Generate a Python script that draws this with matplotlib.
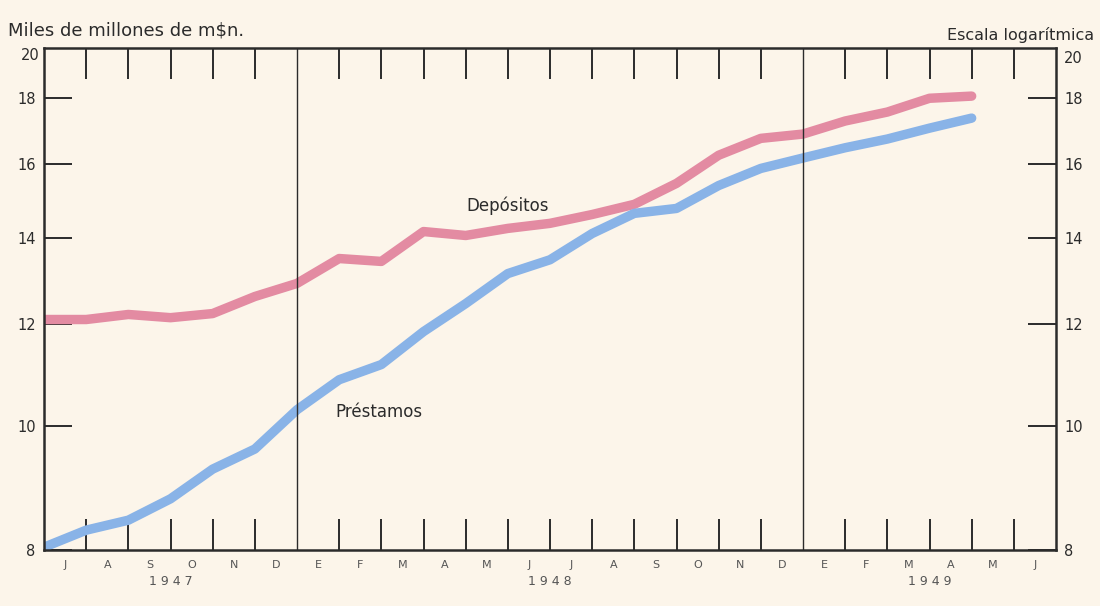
import matplotlib
matplotlib.use("Agg")
import matplotlib.pyplot as plt
import numpy as np

# ---- data (thousands of millions m$n, month-ends from July 1947)
months = ["J", "A", "S", "O", "N", "D", "E", "F", "M", "A", "M", "J",
          "J", "A", "S", "O", "N", "D", "E", "F", "M", "A", "M", "J"]
years = ["1 9 4 7", "1 9 4 8", "1 9 4 9"]
year_centers = [3, 12, 21]
year_bounds = [6, 18]

depositos = [12.10, 12.10, 12.21, 12.14, 12.23, 12.61, 12.91, 13.50, 13.43, 14.17,
             14.07, 14.25, 14.38, 14.61, 14.88, 15.45, 16.25, 16.75, 16.88, 17.28,
             17.56, 18.00, 18.07]
prestamos = [8.04, 8.29, 8.44, 8.77, 9.25, 9.59, 10.29, 10.86, 11.16, 11.84,
             12.45, 13.14, 13.47, 14.12, 14.64, 14.77, 15.39, 15.87, 16.17, 16.47,
             16.73, 17.06, 17.37]
y_ticks = [8, 10, 12, 14, 16, 18]
y_top_label = "20"

bg = "#FCF5EA"
ink = "#2b2b2b"
pink = "#E38BA2"
blue = "#89B3E7"

fig = plt.figure(figsize=(11, 6.06), dpi=100, facecolor=bg)
ax = fig.add_axes([0.04, 0.0924, 0.92, 0.8284])
ax.set_facecolor(bg)

x = np.arange(len(depositos))
ax.plot(x, depositos, color=pink, lw=6.8, solid_capstyle="round", solid_joinstyle="round")
ax.plot(x, prestamos, color=blue, lw=6.8, solid_capstyle="round", solid_joinstyle="round")

ax.set_yscale("log")
ax.set_ylim(8.0, 19.7)
ax.set_xlim(0, 24)

ax.yaxis.set_major_locator(matplotlib.ticker.FixedLocator(y_ticks))
ax.yaxis.set_major_formatter(matplotlib.ticker.FixedFormatter([str(t) for t in y_ticks]))
ax.yaxis.set_minor_locator(matplotlib.ticker.NullLocator())
ax.tick_params(axis="y", which="major", direction="in", length=20, width=1.4,
               left=True, right=True, labelleft=True, labelright=True,
               labelsize=10.5, colors=ink, pad=6)

# month labels centred between month boundaries; ticks at boundaries
ax.set_xticks(np.arange(24) + 0.5)
ax.set_xticklabels(months, fontsize=8, color="#555555")
ax.tick_params(axis="x", which="major", length=0, pad=7)
bounds = [b for b in range(1, 24) if b not in year_bounds]
ax.set_xticks(bounds, minor=True)
ax.tick_params(axis="x", which="minor", direction="in", length=22, width=1.4,
               top=True, bottom=True, color=ink)

for b in year_bounds:
    ax.axvline(b, color=ink, lw=1.0)

for s in ax.spines.values():
    s.set_linewidth(1.8)
    s.set_color(ink)

for c, yl in zip(year_centers, years):
    ax.text(c, -0.062, yl, transform=ax.get_xaxis_transform(), ha="center", va="center",
            fontsize=9, color="#555555")

# top "20" labels
ax.text(-0.004, 0.985, y_top_label, transform=ax.transAxes, ha="right", va="center",
        fontsize=10.5, color=ink)
ax.text(1.008, 0.98, y_top_label, transform=ax.transAxes, ha="left", va="center",
        fontsize=10.5, color=ink)

fig.text(0.007, 0.95, "Miles de millones de m\\$n.", ha="left", va="center",
         fontsize=13, color=ink)
fig.text(0.995, 0.942, "Escala logarítmica", ha="right", va="center",
         fontsize=11.5, color=ink)

ax.text(11.0, 14.85, "Depósitos", ha="center", va="center", fontsize=12, color=ink)
ax.text(7.95, 10.25, "Préstamos", ha="center", va="center", fontsize=12, color=ink)

fig.savefig("out.png", dpi=100, facecolor=bg)
